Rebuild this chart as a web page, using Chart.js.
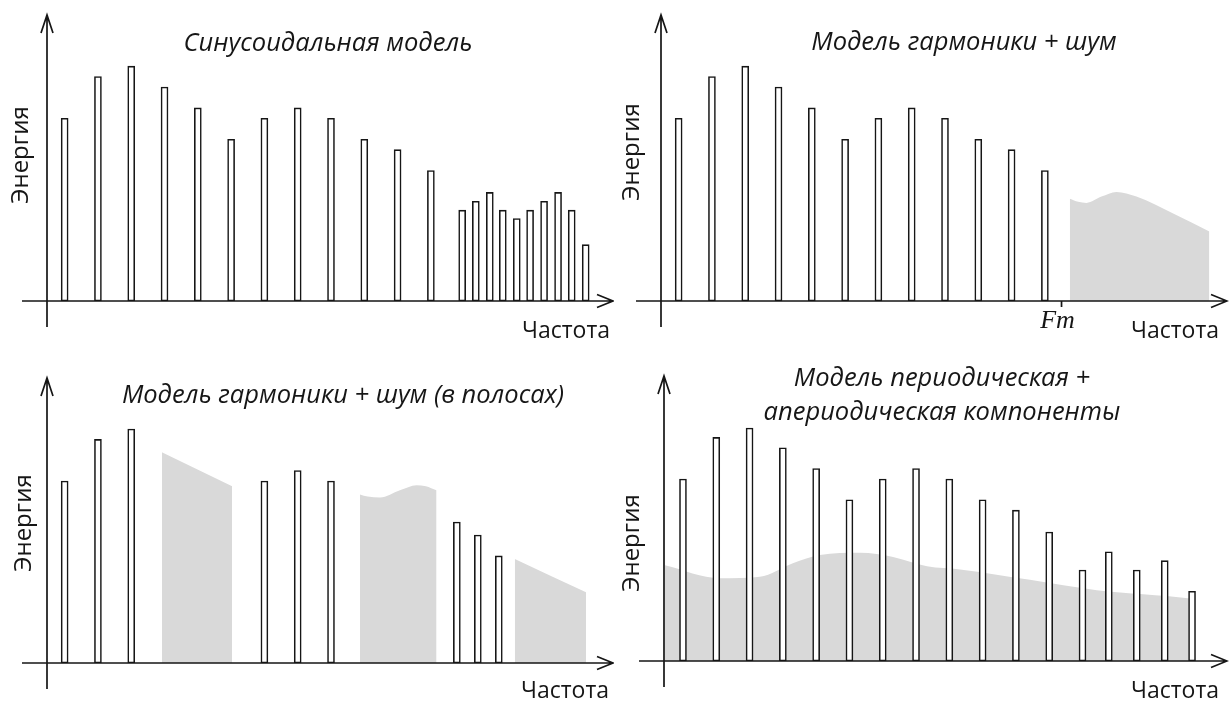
<!DOCTYPE html>
<html>
<head>
<meta charset="utf-8">
<script src="https://cdn.jsdelivr.net/npm/chart.js@4.4.1/dist/chart.umd.min.js"></script>
<style>
  body { margin: 0; background: #fff; }
  canvas { position: absolute; }
</style>
</head>
<body>
<canvas id="sin" width="614" height="351" style="left:0;top:0"></canvas>
<canvas id="hnm" width="615" height="351" style="left:614px;top:0"></canvas>
<canvas id="bands" width="614" height="351" style="left:0;top:351px"></canvas>
<canvas id="aper" width="615" height="351" style="left:614px;top:351px"></canvas>
<script>
/* frequency is in harmonic numbers, energy in relative units */

// harmonic partials, shared by the first two plots
var harmPos = [1, 2, 3, 4, 5, 6, 7, 8, 9, 10, 11, 12];
var harmEnergy = [17.5, 21.5, 22.5, 20.5, 18.5, 15.5, 17.5, 18.5, 17.5, 15.5, 14.5, 12.5];

// sinusoidal model: dense partials at high frequency
var densePos = [12.94, 13.35, 13.77, 14.16, 14.58, 14.98, 15.40, 15.82, 16.23, 16.65];
var denseEnergy = [8.7, 9.55, 10.4, 8.7, 7.9, 8.7, 9.55, 10.4, 8.7, 5.4];

// harmonics + noise: noise above Fm
var fmPos = 12.5;
var noisePos = [12.75, 13.0, 13.25, 13.7, 14.15, 14.75, 15.9, 16.94];
var noiseEnergy = [9.8, 9.5, 9.4, 10.0, 10.45, 10.0, 8.3, 6.65];

// harmonics + noise in bands
var bandHarmPos = [1, 2, 3, 7, 8, 9, 12.78, 13.41, 14.04];
var bandHarmEnergy = [17.5, 21.5, 22.5, 17.5, 18.5, 17.5, 13.55, 12.3, 10.3];
var band1Pos = [3.92, 6.03];
var band1Energy = [20.25, 17.0];
var band2Pos = [9.87, 10.1, 10.47, 11.07, 11.57, 11.85, 12.17];
var band2Energy = [16.2, 16.0, 15.9, 16.6, 17.1, 17.0, 16.6];
var band3Pos = [14.52, 16.66];
var band3Energy = [10.0, 6.8];

// periodic + aperiodic components
var perPos = [1, 2, 3, 4, 5, 6, 7, 8, 9, 10, 11, 12, 13, 13.79, 14.63, 15.47, 16.29];
var perEnergy = [17.5, 21.5, 22.4, 20.5, 18.5, 15.5, 17.5, 18.5, 17.5, 15.5, 14.5, 12.4, 8.75, 10.5, 8.75, 9.65, 6.7];
var aperPos = [0.46, 2.11, 3.31, 4.30, 5.11, 6.32, 7.31, 8.33, 9.32, 11.42, 13.43, 16.23, 16.32];
var aperEnergy = [9.2, 7.95, 8.1, 9.4, 10.2, 10.4, 10.0, 9.1, 8.8, 7.8, 6.8, 6.0, 5.95];

var INK = '#161616';
var NOISE = '#d9d9d9';

function pts(xs, ys) {
  return xs.map(function (x, i) { return { x: x, y: ys[i] }; });
}

function lines(xs, ys) {
  return {
    type: 'bar',
    data: pts(xs, ys),
    backgroundColor: '#fff',
    borderColor: INK,
    borderWidth: 1.6,
    borderSkipped: false,
    barThickness: 7,
    grouped: false,
    order: 1
  };
}

function noise(xs, ys) {
  return {
    type: 'line',
    data: pts(xs, ys),
    backgroundColor: NOISE,
    borderWidth: 0,
    pointRadius: 0,
    fill: 'origin',
    cubicInterpolationMode: 'monotone',
    order: 2
  };
}

// axes with open arrowheads, titles and axis captions
var axesDeco = {
  id: 'axesDeco',
  afterDatasetsDraw: function (chart, args, o) {
    var ctx = chart.ctx, a = chart.chartArea;
    var x0 = a.left, y0 = chart.scales.y.getPixelForValue(0);
    ctx.save();
    ctx.strokeStyle = INK;
    ctx.lineWidth = 1.7;
    ctx.beginPath();
    ctx.moveTo(x0, y0 + 26); ctx.lineTo(x0, a.top);
    ctx.moveTo(x0 - 25, y0); ctx.lineTo(a.right, y0);
    ctx.moveTo(x0 - 6, a.top + 18); ctx.lineTo(x0, a.top); ctx.lineTo(x0 + 6, a.top + 18);
    ctx.moveTo(a.right - 16, y0 - 6.5); ctx.lineTo(a.right, y0); ctx.lineTo(a.right - 16, y0 + 6.5);
    if (o.mark != null) {
      var xm = chart.scales.x.getPixelForValue(o.mark);
      ctx.moveTo(xm, y0); ctx.lineTo(xm, y0 + 6);
    }
    ctx.stroke();

    ctx.fillStyle = INK;
    ctx.textAlign = 'center';
    ctx.textBaseline = 'alphabetic';
    ctx.font = 'italic 25.5px "Open Sans"';
    o.title.forEach(function (t, i) { ctx.fillText(t, o.titleX, o.titleY + i * 34); });

    ctx.font = '23px "Open Sans"';
    ctx.fillText('Частота', o.freqX, o.freqY);

    if (o.mark != null) {
      ctx.font = 'italic 26px "Liberation Serif"';
      ctx.fillText('Fm', chart.scales.x.getPixelForValue(o.mark) - 4, y0 + 27);
    }

    ctx.translate(o.energyX, o.energyY);
    ctx.rotate(-Math.PI / 2);
    ctx.font = '24px "Open Sans"';
    ctx.fillText('Энергия', 0, 0);
    ctx.restore();
  }
};

function plot(id, datasets, frame, deco) {
  new Chart(document.getElementById(id), {
    data: { datasets: datasets },
    options: {
      responsive: false,
      animation: false,
      events: [],
      layout: { padding: { left: frame.left, right: frame.right, top: frame.top, bottom: frame.bottom } },
      scales: {
        x: { type: 'linear', display: false, offset: false, min: frame.xMin, max: frame.xMax },
        y: { type: 'linear', display: false, min: 0, max: 27.4 }
      },
      plugins: {
        legend: { display: false },
        tooltip: { enabled: false },
        axesDeco: deco
      }
    },
    plugins: [axesDeco]
  });
}

plot('sin',
  [lines(harmPos, harmEnergy), lines(densePos, denseEnergy)],
  { left: 47, right: 1, top: 15, bottom: 50, xMin: 0.47, xMax: 17.47 },
  { title: ['Синусоидальная модель'], titleX: 328, titleY: 51,
    freqX: 566, freqY: 338, energyX: 28, energyY: 155 });

plot('hnm',
  [lines(harmPos, harmEnergy), noise(noisePos, noiseEnergy)],
  { left: 47, right: 2, top: 15, bottom: 50, xMin: 0.47, xMax: 17.47 },
  { title: ['Модель гармоники + шум'], titleX: 350, titleY: 50, mark: fmPos,
    freqX: 561, freqY: 338, energyX: 25, energyY: 152 });

plot('bands',
  [lines(bandHarmPos, bandHarmEnergy), noise(band1Pos, band1Energy),
   noise(band2Pos, band2Energy), noise(band3Pos, band3Energy)],
  { left: 47, right: 1, top: 27, bottom: 39, xMin: 0.47, xMax: 17.47 },
  { title: ['Модель гармоники + шум (в полосах)'], titleX: 343, titleY: 52,
    freqX: 565, freqY: 347, energyX: 31, energyY: 172 });

plot('aper',
  [lines(perPos, perEnergy), noise(aperPos, aperEnergy)],
  { left: 50, right: 2, top: 25, bottom: 41, xMin: 0.43, xMax: 17.34 },
  { title: ['Модель периодическая +', 'апериодическая компоненты'], titleX: 328, titleY: 35,
    freqX: 561, freqY: 347, energyX: 25, energyY: 192 });
</script>
</body>
</html>
